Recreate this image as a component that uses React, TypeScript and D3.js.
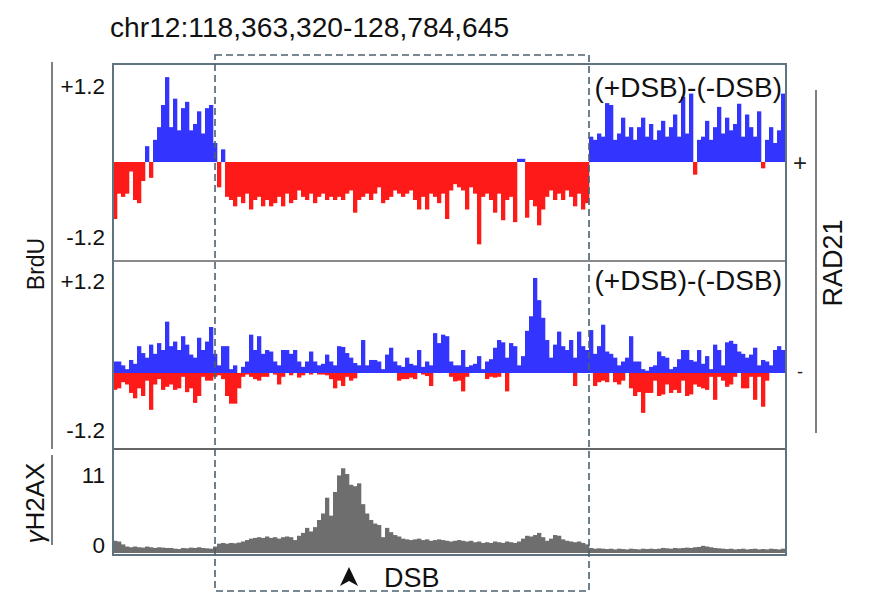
import React from "react";
import * as d3 from "d3";

// ---- Data (bins across chr12:118,363,320-128,784,645) ----
const title = "chr12:118,363,320-128,784,645";

// Track 1: RAD21 + , BrdU (+DSB)-(-DSB)
const brduPlus: number[] = [
  -0.9, -0.5, -0.55, -0.5, -0.15, -0.6, -0.65, -0.3, 0.25, -0.25,
  0.35, 0.55, 0.9, 1.34, 0.55, 1.0, 0.5, 0.85, 0.95, 0.5,
  0.6, 0.8, 0.45, 0.85, 0.9, 0.3, -0.4, 0.2, -0.55, -0.6,
  -0.7, -0.55, -0.65, -0.5, -0.75, -0.6, -0.55, -0.7, -0.6, -0.7,
  -0.65, -0.55, -0.7, -0.5, -0.65, -0.6, -0.45, -0.55, -0.6, -0.5,
  -0.65, -0.55, -0.5, -0.6, -0.55, -0.6, -0.55, -0.6, -0.5, -0.45,
  -0.8, -0.6, -0.55, -0.5, -0.6, -0.5, -0.4, -0.65, -0.6, -0.55,
  -0.45, -0.5, -0.55, -0.5, -0.45, -0.6, -0.75, -0.55, -0.75, -0.5,
  -0.55, -0.65, -0.5, -0.9, -0.45, -0.35, -0.4, -0.45, -0.75, -0.4,
  -0.5, -1.3, -0.55, -0.5, -0.6, -0.8, -0.5, -0.92, -0.6, -0.55,
  -0.95, 0.05, 0.05, -0.88, -0.6, -0.7, -1.0, -0.75, -0.55, -0.45,
  -0.6, -0.5, -0.6, -0.45, -0.55, -0.7, -0.5, -0.75, -0.65, 0.4,
  0.35, 0.45, 0.4, 0.93, 0.9, 0.35, 0.45, 0.7, 0.4, 0.55,
  0.35, 0.55, 0.7, 0.4, 0.6, 0.35, 0.5, 0.65, 0.4, 0.55,
  0.75, 0.4, 1.03, 0.45, 1.08, -0.2, 0.35, 0.4, 0.65, 0.35,
  0.55, 0.87, 0.45, 0.7, 0.5, 0.6, 0.92, 0.4, 0.75, 0.55,
  0.4, 0.8, -0.1, 0.35, 0.55, 0.3, 0.5, 1.08,
];

// Track 2: RAD21 - , upper and lower envelopes per bin
const brduMinusUp: number[] = [
  0.15, 0.15, 0.1, 0.05, 0.17, 0.12, 0.35, 0.26, 0.2, 0.37,
  0.25, 0.39, 0.3, 0.67, 0.35, 0.41, 0.3, 0.48, 0.37, 0.24,
  0.2, 0.46, 0.3, 0.41, 0.6, 0.25, 0.1, 0.35, 0.35, 0.05,
  0.1, 0.0, 0.08, 0.15, 0.5, 0.3, 0.48, 0.25, 0.3, 0.28,
  0.15, 0.1, 0.3, 0.3, 0.25, 0.3, 0.15, 0.08, 0.15, 0.28,
  0.15, 0.1, 0.12, 0.24, 0.15, 0.1, 0.35, 0.34, 0.26, 0.2,
  0.13, 0.1, 0.43, 0.1, 0.17, 0.17, 0.15, 0.05, 0.24, 0.33,
  0.15, 0.1, 0.08, 0.2, 0.12, 0.1, 0.3, 0.08, 0.15, 0.1,
  0.52, 0.39, 0.5, 0.48, 0.15, 0.1, 0.1, 0.3, 0.08, 0.1,
  0.12, 0.22, 0.05, 0.15, 0.18, 0.33, 0.43, 0.4, 0.2, 0.39,
  0.35, 0.1, 0.22, 0.55, 0.74, 1.24, 0.95, 0.72, 0.43, 0.2,
  0.37, 0.54, 0.35, 0.3, 0.43, 0.2, 0.54, 0.35, 0.3, 0.56,
  0.25, 0.35, 0.63, 0.28, 0.25, 0.2, 0.1, 0.15, 0.2, 0.48,
  0.15, 0.15, 0.05, 0.03, 0.08, 0.1, 0.28, 0.22, 0.2, 0.05,
  0.08, 0.18, 0.3, 0.3, 0.17, 0.15, 0.3, 0.12, 0.22, 0.05,
  0.37, 0.3, 0.1, 0.4, 0.42, 0.38, 0.28, 0.25, 0.2, 0.24,
  0.33, 0.1, 0.17, 0.15, 0.1, 0.3, 0.35, 0.3,
];
const brduMinusDown: number[] = [
  -0.22, -0.2, -0.12, -0.15, -0.26, -0.33, -0.2, -0.3, -0.1, -0.48,
  -0.15, -0.08, -0.22, -0.18, -0.15, -0.22, -0.2, -0.05, -0.25, -0.2,
  -0.39, -0.3, -0.05, -0.1, -0.1, -0.05, -0.03, -0.08, -0.3, -0.4,
  -0.4, -0.2, -0.05, -0.02, -0.05, -0.08, -0.1, -0.05, -0.05, 0,
  -0.02, -0.15, -0.05, 0, -0.03, 0, -0.06, -0.03, 0, -0.02,
  0, -0.02, -0.02, -0.03, -0.08, -0.2, -0.1, -0.17, -0.05, -0.1,
  -0.07, 0, 0, 0, 0, 0, 0, 0, 0, 0,
  0, -0.1, -0.08, -0.08, -0.06, -0.08, 0, -0.02, -0.04, -0.17,
  0, 0, 0, 0, -0.05, -0.11, -0.1, -0.24, -0.05, 0,
  0, 0, 0, -0.08, -0.05, -0.06, -0.05, 0, -0.24, 0,
  0, 0, 0, 0, 0, 0, 0, 0, 0, 0,
  0, 0, 0, 0, 0, -0.17, 0, 0, 0, 0,
  -0.17, -0.12, -0.1, -0.12, 0, -0.12, -0.15, -0.1, 0, -0.2,
  -0.3, -0.25, -0.52, -0.26, -0.26, -0.1, -0.3, -0.28, -0.15, -0.26,
  -0.22, -0.26, -0.1, -0.3, -0.28, -0.15, -0.18, -0.2, -0.22, -0.05,
  -0.35, -0.05, -0.1, -0.18, -0.15, -0.05, 0, -0.2, -0.2, -0.05,
  -0.35, -0.05, -0.44, -0.1, 0, 0, 0, 0,
];

// Track 3: γH2AX
const h2ax: number[] = [
  1.7, 1.6, 1.2, 0.9, 0.8, 0.9, 0.8, 0.75, 0.9, 0.8,
  0.7, 0.8, 0.75, 0.7, 0.7, 0.6, 0.55, 0.7, 0.65, 0.75,
  0.7, 0.8, 0.7, 0.65, 0.6, 0.9, 1.3, 1.4, 1.3, 1.4,
  1.35, 1.45, 1.6, 1.8, 2.0, 2.1, 2.2, 2.1, 2.3, 2.1,
  2.2, 2.0, 2.2, 2.3, 2.2, 1.8, 2.4, 2.8, 3.5, 3.0,
  3.6, 4.6, 5.5, 7.7, 5.2, 8.5, 10.8, 11.8, 11.0, 9.5,
  9.3, 9.7, 6.8, 5.5, 4.6, 4.1, 3.9, 2.2, 3.5, 2.9,
  2.5, 2.3, 2.0, 1.9, 1.8, 1.9, 2.0, 1.8, 1.9, 1.7,
  1.8, 1.9, 1.8, 1.7, 1.6, 1.7, 1.8, 1.7, 1.6, 1.7,
  1.5, 1.6, 1.4, 1.5, 1.4, 1.6, 1.5, 1.4, 1.6, 1.5,
  1.4, 1.6, 2.0, 2.4, 2.3, 2.5, 2.8, 2.2, 1.7, 2.0,
  2.5, 2.4, 1.9, 1.7, 1.6, 1.5, 1.6, 1.4, 1.2, 0.7,
  0.6, 0.65, 0.6, 0.55, 0.6, 0.5, 0.6, 0.55, 0.5, 0.6,
  0.55, 0.5, 0.6, 0.55, 0.6, 0.55, 0.6, 0.7, 0.65, 0.6,
  0.7, 0.65, 0.7, 0.75, 0.7, 0.8, 0.85, 1.0, 0.9, 0.8,
  0.7, 0.65, 0.6, 0.55, 0.6, 0.5, 0.55, 0.6, 0.5, 0.55,
  0.6, 0.5, 0.55, 0.5, 0.6, 0.55, 0.5, 0.6,
];

const brduTicks = ["+1.2", "-1.2"];
const h2axTicks = ["11", "0"];
const trackLabel = "(+DSB)-(-DSB)";
const rad21Signs = ["+", "-"];

// ---- Layout ----
const W = 874;
const H = 611;
const FL = 113;
const FR = 786;
const FT = 64;
const FB = 555;
const T1B = 261;
const T2B = 449;
const FONT = "'Liberation Sans', Arial, Helvetica, sans-serif";
const BLUE = "#3434ff";
const RED = "#ff1a1a";
const GREY = "#6e6e6e";
const FRAME = "#5f7380";
const DASH = "#4b6170";

export default function App() {
  const n = brduPlus.length;
  const x = d3.scaleBand<number>().domain(d3.range(n)).range([FL, FR - 1]).paddingInner(0);
  const bw = x.bandwidth();

  const y1 = d3.scaleLinear().domain([-1.2, 1.2]).range([238, 86]);
  const y2 = d3.scaleLinear().domain([-1.2, 1.2]).range([465, 281]);
  const y3 = d3.scaleLinear().domain([0, 11]).range([553, 474]);

  const bars = (vals: number[], y: d3.ScaleLinear<number, number>, key: string) =>
    vals.map((v, i) => {
      if (v === 0) return null;
      const y0 = y(0);
      const yv = y(v);
      return (
        <rect
          key={key + i}
          x={x(i)!}
          y={Math.min(y0, yv)}
          width={bw + 0.3}
          height={Math.abs(yv - y0)}
          fill={v > 0 ? BLUE : RED}
        />
      );
    });

  return (
    <svg width={W} height={H} style={{ display: "block", position: "absolute", left: 0, top: 0 }} fontFamily={FONT}>
      <rect x={0} y={0} width={W} height={H} fill="#fff" />
      <text x={110} y={37} fontSize={28.2} fill="#111">{title}</text>

      {/* tracks */}
      <g>{bars(brduPlus, y1, "a")}</g>
      <g>{bars(brduMinusUp, y2, "b")}</g>
      <g>{bars(brduMinusDown, y2, "c")}</g>
      <g>
        {h2ax.map((v, i) => (
          <rect key={"g" + i} x={x(i)!} y={y3(v)} width={bw + 0.3} height={y3(0) - y3(v)} fill={GREY} />
        ))}
      </g>

      {/* frame & dividers */}
      <line x1={FL} x2={FR} y1={T1B} y2={T1B} stroke="#8a8a8a" strokeWidth={2} />
      <line x1={FL} x2={FR} y1={T2B} y2={T2B} stroke="#333" strokeWidth={1.5} />
      <rect x={FL} y={FT} width={FR - FL} height={FB - FT} fill="none" stroke={FRAME} strokeWidth={2} />

      {/* track labels */}
      <text x={782} y={97} fontSize={28} textAnchor="end" fill="#111">{trackLabel}</text>
      <text x={782} y={290} fontSize={28} textAnchor="end" fill="#111">{trackLabel}</text>

      {/* y labels */}
      <g fontSize={22.5} textAnchor="end" fill="#111">
        <text x={105} y={94}>{brduTicks[0]}</text>
        <text x={105} y={245}>{brduTicks[1]}</text>
        <text x={105} y={289}>{brduTicks[0]}</text>
        <text x={105} y={438}>{brduTicks[1]}</text>
        <text x={105} y={483}>{h2axTicks[0]}</text>
        <text x={105} y={553}>{h2axTicks[1]}</text>
      </g>

      {/* left brackets */}
      <line x1={52} x2={52} y1={62} y2={449} stroke="#555" strokeWidth={1.5} />
      <line x1={52} x2={52} y1={455} y2={545} stroke="#555" strokeWidth={1.5} />
      <text transform="translate(44,264) rotate(-90)" fontSize={23} textAnchor="middle" fill="#111">BrdU</text>
      <text transform="translate(44,503) rotate(-90)" fontSize={26} textAnchor="middle" fill="#111">
        <tspan fontStyle="italic">γ</tspan>H2AX
      </text>

      {/* right bracket */}
      <line x1={816} x2={816} y1={90} y2={433} stroke="#555" strokeWidth={1.5} />
      <text transform="translate(842,263) rotate(-90)" fontSize={27} textAnchor="middle" fill="#111">RAD21</text>
      <text x={800} y={171} fontSize={24} textAnchor="middle" fill="#222">{rad21Signs[0]}</text>
      <text x={800} y={378} fontSize={18} textAnchor="middle" fill="#222">{rad21Signs[1]}</text>

      {/* DSB dashed box */}
      <rect x={215} y={55} width={589 - 215} height={591 - 55} fill="none" stroke={DASH} strokeWidth={1.6} strokeDasharray="7,4" />

      {/* DSB marker */}
      <path d="M340,586 L349,567 L358,586 L349,581 Z" fill="#111" />
      <text x={384} y={587} fontSize={27} fill="#111">DSB</text>
    </svg>
  );
}
